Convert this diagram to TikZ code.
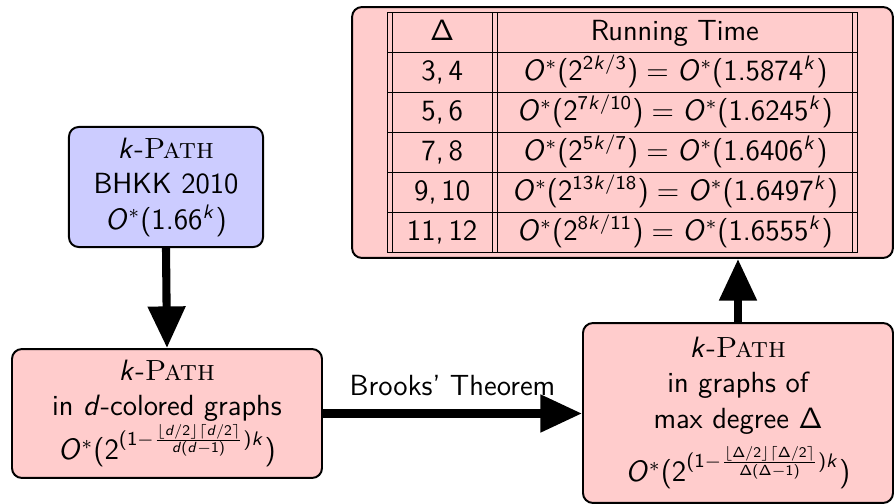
\documentclass[tikz,border=0pt]{standalone}
\usetikzlibrary{arrows.meta}
% sans serif math, as on slides
\SetSymbolFont{operators}{normal}{OT1}{cmss}{m}{n}
\SetSymbolFont{letters}{normal}{OT1}{cmss}{m}{it}
\DeclareMathSymbol{,}{\mathpunct}{operators}{"2C}
\DeclareMathSymbol{.}{\mathord}{operators}{"2E}
\DeclareMathSymbol{/}{\mathord}{operators}{"2F}

\begin{document}
\begin{tikzpicture}[
    x=0.01434cm, y=-0.01434cm,
    every node/.style={font=\sffamily\fontsize{11.9pt}{14.5pt}\selectfont},
    pink box/.style={draw, thick, rounded corners=4pt, fill=red!20, align=center, inner sep=0pt},
    blue box/.style={pink box, fill=blue!20},
    fat arrow/.style={line width=3.3pt, -{Triangle[length=17pt,width=14.7pt]}},
    ]
\useasboundingbox (0,0) rectangle (896,504);
\node[blue box, minimum width=79.2pt, minimum height=49pt] (kpath) at (166,187)
    {$k$-\textrm{\textsc{Path}}\\ BHKK 2010\\ $O^*(1.66^k)$};
\node[pink box, minimum width=126.5pt, minimum height=52.6pt] (colored) at (167,413.5)
    {$k$-\textrm{\textsc{Path}}\\ in $d$-colored graphs\\ $O^*(2^{(1-\frac{\lfloor d/2\rfloor\lceil d/2\rceil}{d(d-1)})k})$};
\node[pink box, minimum width=126.5pt, minimum height=73.4pt] (degree) at (738,413)
    {$k$-\textrm{\textsc{Path}}\\ in graphs of\\ max degree $\Delta$\\[4pt] $O^*(2^{(1-\frac{\lfloor \Delta/2\rfloor\lceil \Delta/2\rceil}{\Delta(\Delta-1)})k})$};
\node[pink box, minimum width=220.7pt, minimum height=102.4pt] (runtime) at (622.5,132.5)
    {\renewcommand{\arraystretch}{1.1}%
    \begin{tabular}{||c||c||}
    \hline
    $\Delta$ & Running Time\\ \hline
    $3,4$ & $O^*(2^{2k/3}) = O^*(1.5874^k)$\\ \hline
    $5,6$ & $O^*(2^{7k/10}) = O^*(1.6245^k)$\\ \hline
    $7,8$ & $O^*(2^{5k/7}) = O^*(1.6406^k)$\\ \hline
    $9,10$ & $O^*(2^{13k/18}) = O^*(1.6497^k)$\\ \hline
    $11,12$ & $O^*(2^{8k/11}) = O^*(1.6555^k)$\\ \hline
    \end{tabular}};
\draw[fat arrow] (kpath.south) -- (colored.north);
\draw[fat arrow] (colored.east) -- node[above=5.7pt, inner sep=0pt] (brooks) {Brooks' Theorem} (colored.east -| degree.west);
\draw[fat arrow] (degree.north) -- (degree.north |- runtime.south);
\end{tikzpicture}
\end{document}
